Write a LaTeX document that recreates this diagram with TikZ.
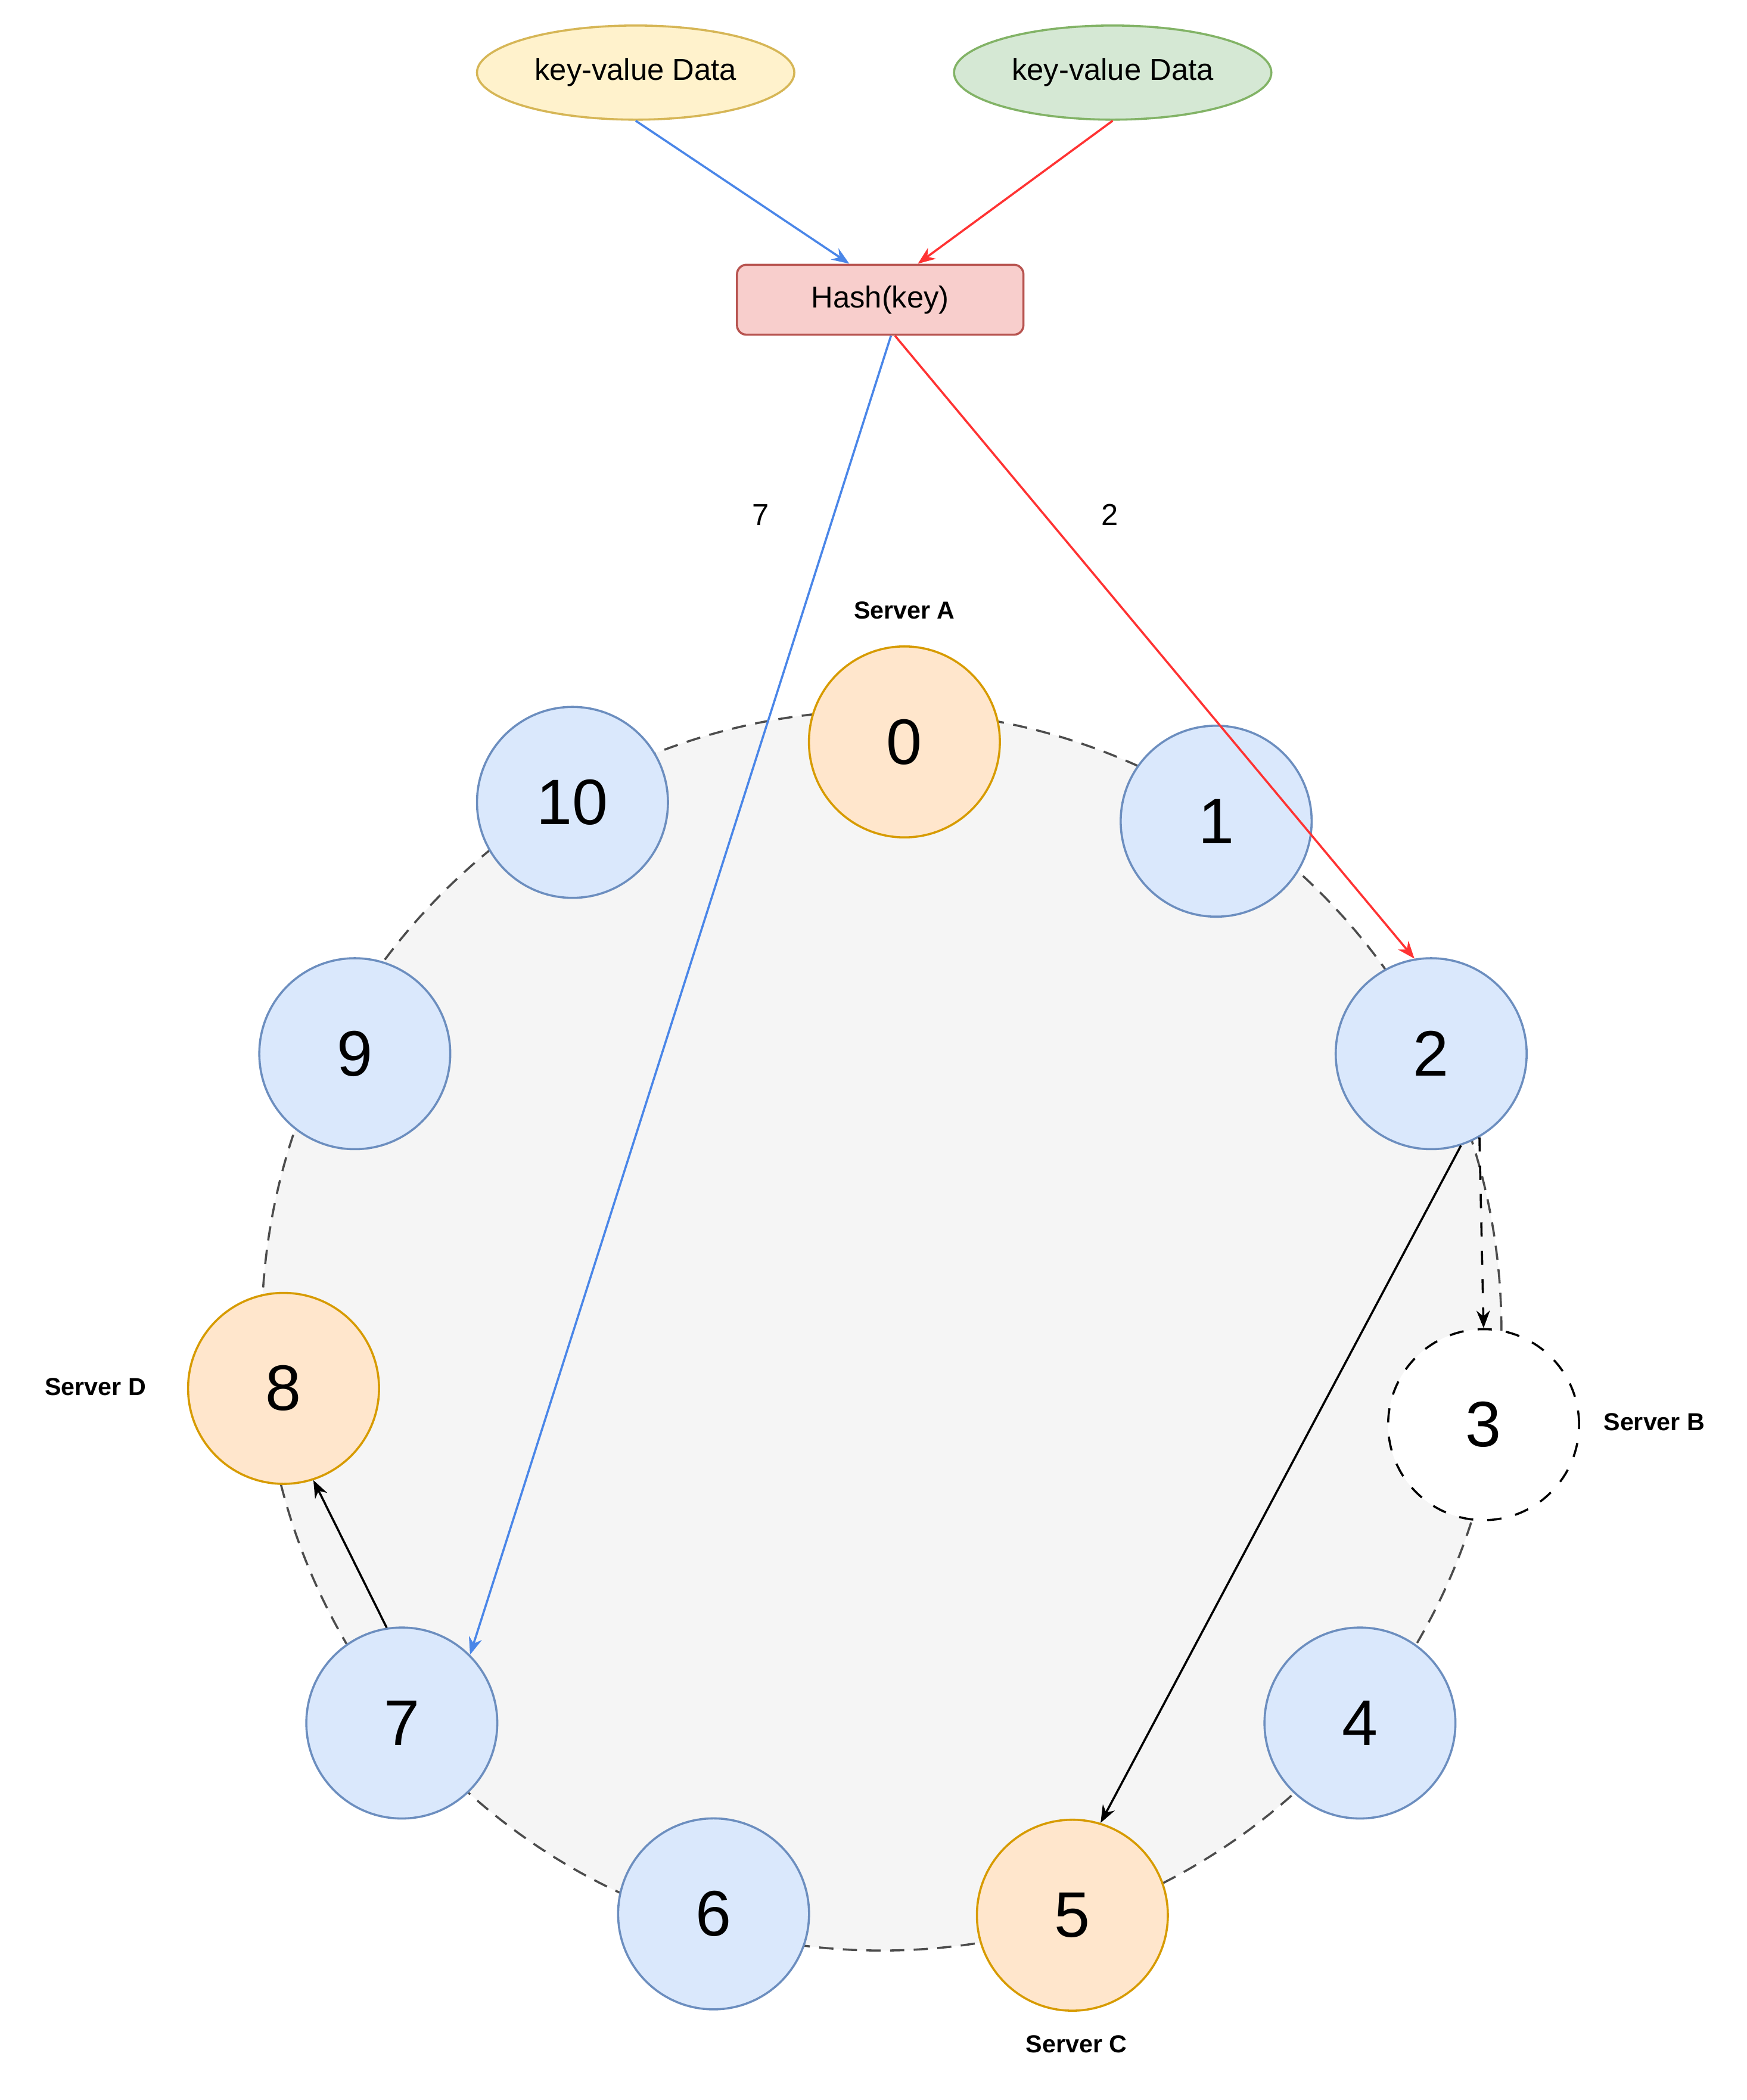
\documentclass[tikz,border=0pt]{standalone}
\usepackage{fontspec}
\setmainfont{Liberation Sans}
\usetikzlibrary{arrows.meta,calc,shapes.geometric}
\definecolor{bfill}{HTML}{DAE8FC}\definecolor{bdraw}{HTML}{6C8EBF}
\definecolor{ofill}{HTML}{FFE6CC}\definecolor{odraw}{HTML}{D79B00}
\definecolor{yfill}{HTML}{FFF2CC}\definecolor{ydraw}{HTML}{D6B656}
\definecolor{gfill}{HTML}{D5E8D4}\definecolor{gdraw}{HTML}{82B366}
\definecolor{rfill}{HTML}{F8CECC}\definecolor{rdraw}{HTML}{B85450}
\definecolor{ablue}{HTML}{4A86E8}\definecolor{ared}{HTML}{FF3333}
\begin{document}
\begin{tikzpicture}[x=0.01cm,y=-0.01cm,line width=0.45pt,
  num/.style={circle,minimum size=1.42cm,inner sep=0pt,font=\fontsize{13.6}{15}\selectfont},
  bn/.style={num,fill=bfill,draw=bdraw},
  on/.style={num,fill=ofill,draw=odraw},
  kv/.style={ellipse,minimum width=2.36cm,minimum height=0.7cm,inner sep=0pt,font=\fontsize{6.4}{8}\selectfont},
  srv/.style={font=\bfseries\fontsize{5.2}{6}\selectfont},
  lbl/.style={font=\fontsize{6.4}{8}\selectfont},
  arr/.style={-{Stealth[length=0.13cm,width=0.1cm]}}]
\useasboundingbox (0,0) rectangle (1300,1562.5);
\draw[fill=black!4,draw=black!70,dashed,dash pattern=on 3pt off 2pt] (656,990) circle[radius=4.61cm];
\node[kv,fill=yfill,draw=ydraw] (y) at (473,54) {key-value Data};
\node[kv,fill=gfill,draw=gdraw] (g) at (828,54) {key-value Data};
\node[draw=rdraw,fill=rfill,rounded corners=2pt,minimum width=2.13cm,minimum height=0.52cm,inner sep=0pt,lbl] (hash) at (655,223) {Hash(key)};
\node[on] (n0) at (673,552) {0};
\node[bn] (n1) at (905,611) {1};
\node[bn] (n2) at (1065,784) {2};
\node[num,draw=black,dashed,fill=white] (n3) at (1104,1060) {3};
\node[bn] (n4) at (1012,1282) {4};
\node[on] (n5) at (798,1425) {5};
\node[bn] (n6) at (531,1424) {6};
\node[bn] (n7) at (299,1282) {7};
\node[on] (n8) at (211,1033) {8};
\node[bn] (n9) at (264,784) {9};
\node[bn] (n10) at (426,597) {10};
\node[srv] (sa) at (673,454) {Server A};
\node[srv] (sb) at (1231,1058) {Server B};
\node[srv] (sc) at (801,1521) {Server C};
\node[srv] (sd) at (71,1032) {Server D};
\node[lbl] (l7) at (566,383) {7};
\node[lbl] (l2) at (826,383) {2};
\draw[arr,ablue] (y.south) -- ($(hash.north)+(-23,0)$);
\draw[arr,ared] (g.south) -- ($(hash.north)+(28,0)$);
\draw[arr,ablue] ($(hash.south)+(8,0)$) -- (n7.45);
\draw[arr,ared] ($(hash.south)+(11,0)$) -- (n2.100);
\draw[arr,black] (n2.-72) -- (n5.73);
\draw[arr,black,dashed] (n2.-60) -- (n3.north);
\draw[arr,black] (n7.99) -- (n8.-72);
\end{tikzpicture}
\end{document}
